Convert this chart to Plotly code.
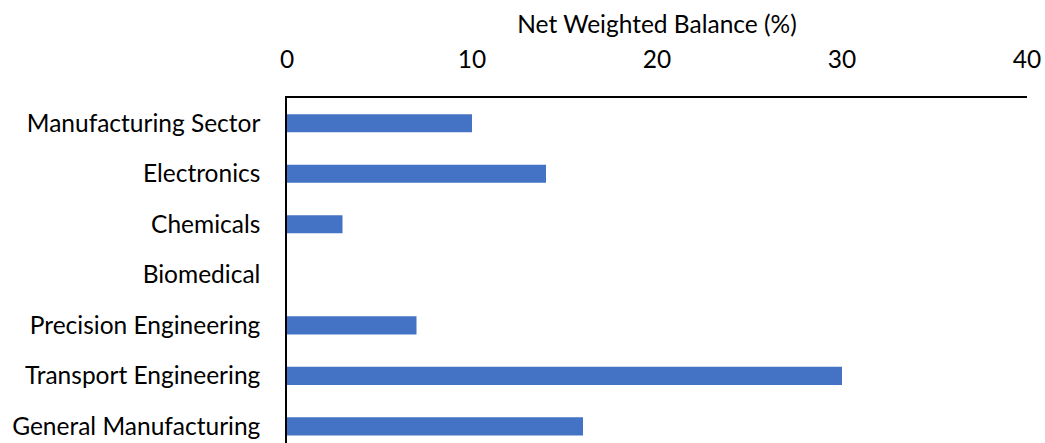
import plotly.graph_objects as go

sectors = [
    "Manufacturing Sector",
    "Electronics",
    "Chemicals",
    "Biomedical",
    "Precision Engineering",
    "Transport Engineering",
    "General Manufacturing",
]
net_balance = [10, 14, 3, 0, 7, 30, 16]
x_ticks = [0, 10, 20, 30, 40]

font_family = "Lato, Open Sans, sans-serif"
label_size = 24.5

fig = go.Figure(
    go.Bar(
        x=net_balance,
        y=sectors,
        orientation="h",
        marker=dict(color="#4472C4", line=dict(width=0)),
        width=0.36,
    )
)

fig.update_layout(
    width=1045,
    height=443,
    margin=dict(l=287, r=18, t=98, b=0),
    paper_bgcolor="white",
    plot_bgcolor="white",
    showlegend=False,
    font=dict(family=font_family, size=label_size, color="#000000"),
    xaxis=dict(
        side="top",
        range=[0, 40],
        tickvals=x_ticks,
        showgrid=False,
        zeroline=False,
        showline=True,
        linecolor="#000000",
        linewidth=1.5,
        ticks="",
        ticklabelstandoff=18,
        tickfont=dict(size=label_size),
        title=dict(text="Net Weighted Balance (%)", font=dict(size=label_size), standoff=4),
    ),
    yaxis=dict(
        type="category",
        categoryorder="array",
        categoryarray=sectors,
        range=[6.33, -0.5],
        showgrid=False,
        zeroline=False,
        showline=True,
        linecolor="#000000",
        linewidth=1.5,
        ticks="",
        ticklabelstandoff=20,
        tickfont=dict(size=label_size),
    ),
)

fig.write_html("out.html")
